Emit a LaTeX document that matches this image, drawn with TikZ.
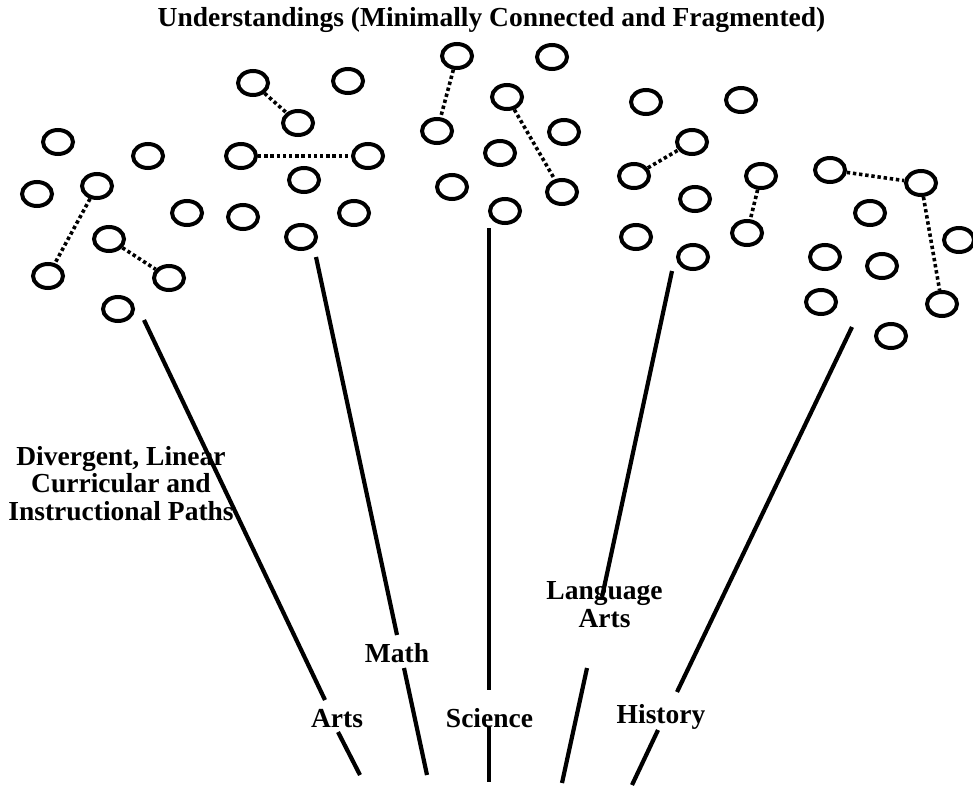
\documentclass[tikz,border=0pt]{standalone}
\usepackage{fontspec}
\setmainfont{Liberation Serif}
\usetikzlibrary{shapes.geometric}
\begin{document}
\begin{tikzpicture}[x=1pt,y=-1pt,
  bub/.style={ellipse,draw,line width=4pt,minimum width=30pt,minimum height=24pt,inner sep=0pt},
  dotl/.style={line width=3.6pt,dash pattern=on 3.4pt off 2.8pt},
  path/.style={line width=4.2pt},
  lbl/.style={font=\bfseries\fontsize{27.5}{27.5}\selectfont,anchor=base,inner sep=0pt,align=center}]
\useasboundingbox (0,0) rectangle (973,789);
\fill[white] (0,0) rectangle (973,789);
\begin{scope}
\clip (0,0) rectangle (973,789);
% title
\node[lbl] (title) at (491.5,27) {Understandings (Minimally Connected and Fragmented)};
% Arts group
\node[bub] (a1) at (58,142) {};
\node[bub] (a2) at (148,156) {};
\node[bub] (a3) at (37,194) {};
\node[bub] (a4) at (97,186) {};
\node[bub] (a5) at (187,213) {};
\node[bub] (a6) at (109,239) {};
\node[bub] (a7) at (48,276) {};
\node[bub] (a8) at (169,278) {};
\node[bub] (a9) at (118,309) {};
\draw[dotl] (a4) -- (a7);
\draw[dotl] (a6) -- (a8);
% Math group
\node[bub] (m1) at (253,83) {};
\node[bub] (m2) at (348,81) {};
\node[bub] (m3) at (298,123) {};
\node[bub] (m4) at (241,156) {};
\node[bub] (m5) at (368,156) {};
\node[bub] (m6) at (304,180) {};
\node[bub] (m7) at (243,217) {};
\node[bub] (m8) at (354,213) {};
\node[bub] (m9) at (301,237) {};
\draw[dotl] (m1) -- (m3);
\draw[dotl] (m4) -- (m5);
% Science group
\node[bub] (s1) at (457,56) {};
\node[bub] (s2) at (552,57) {};
\node[bub] (s3) at (437,131) {};
\node[bub] (s4) at (507,97) {};
\node[bub] (s5) at (564,132) {};
\node[bub] (s6) at (500,153) {};
\node[bub] (s7) at (452,187) {};
\node[bub] (s8) at (562,192) {};
\node[bub] (s9) at (505,211) {};
\draw[dotl] (s1) -- (s3);
\draw[dotl] (s4) -- (s8);
% Language Arts group
\node[bub] (l1) at (646,102) {};
\node[bub] (l2) at (741,100) {};
\node[bub] (l3) at (692,142) {};
\node[bub] (l4) at (634,176) {};
\node[bub] (l5) at (761,176) {};
\node[bub] (l6) at (695,199) {};
\node[bub] (l7) at (636,237) {};
\node[bub] (l8) at (747,233) {};
\node[bub] (l9) at (693,257) {};
\draw[dotl] (l4) -- (l3);
\draw[dotl] (l5) -- (l8);
% History group
\node[bub] (h1) at (830,170) {};
\node[bub] (h2) at (921,183) {};
\node[bub] (h3) at (870,213) {};
\node[bub] (h4) at (959,240) {};
\node[bub] (h5) at (825,257) {};
\node[bub] (h6) at (882,266) {};
\node[bub] (h7) at (821,302) {};
\node[bub] (h8) at (942,304) {};
\node[bub] (h9) at (891,336) {};
\draw[dotl] (h1) -- (h2);
\draw[dotl] (h2) -- (h8);
% paths
\coordinate (at) at (144,320);  \coordinate (ab1) at (325,700);
\coordinate (ab2) at (338,732); \coordinate (ab) at (360,775);
\coordinate (mt) at (316,257);  \coordinate (mb1) at (397,635);
\coordinate (mb2) at (404,668); \coordinate (mb) at (427,775);
\coordinate (st) at (489,228);  \coordinate (sb1) at (489,690);
\coordinate (sb2) at (489,727); \coordinate (sb) at (489,782);
\coordinate (lt) at (672,271);  \coordinate (lb1) at (602,597);
\coordinate (lb2) at (587,668); \coordinate (lb) at (562,783);
\coordinate (ht) at (852,327);  \coordinate (hb1) at (677,692);
\coordinate (hb2) at (658,730); \coordinate (hb) at (632,785);
\draw[path] (at) -- (ab1) (ab2) -- (ab);
\draw[path] (mt) -- (mb1) (mb2) -- (mb);
\draw[path] (st) -- (sb1) (sb2) -- (sb);
\draw[path] (lt) -- (lb1) (lb2) -- (lb);
\draw[path] (ht) -- (hb1) (hb2) -- (hb);
% labels
\node[lbl] (arts) at (337,727) {Arts};
\node[lbl] (math) at (397,662) {Math};
\node[lbl] (sci) at (489.5,727) {Science};
\node[lbl] (lang) at (604.5,627) {Language\\Arts};
\node[lbl] (hist) at (661,723) {History};
\node[lbl] (div) at (121,520) {Divergent, Linear\\Curricular and\\Instructional Paths};
\end{scope}
\end{tikzpicture}
\end{document}
